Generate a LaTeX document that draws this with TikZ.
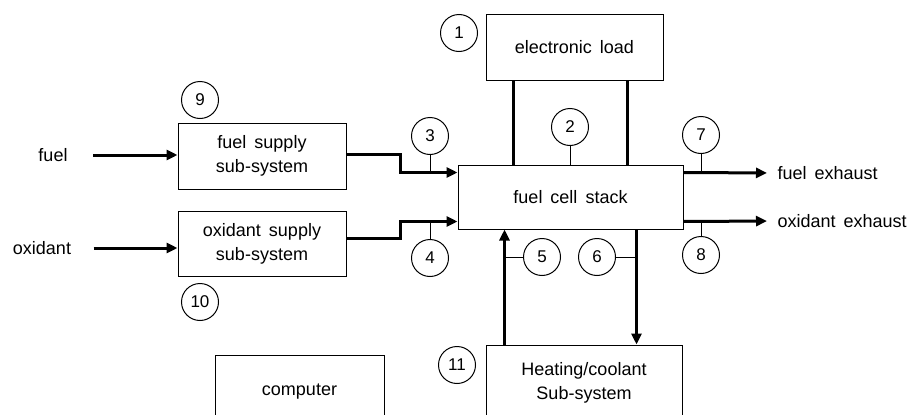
\documentclass[tikz,border=0pt]{standalone}
\usepackage{fontspec}
\setmainfont{Liberation Sans}[WordSpace=1.6]
\usetikzlibrary{arrows.meta}

\begin{document}
\begin{tikzpicture}[
  x=1pt, y=-1pt,
  box/.style={draw, line width=1pt, align=center, inner sep=0pt,
              font=\fontsize{18}{24}\selectfont},
  num/.style={draw, circle, line width=1pt, minimum size=37pt, inner sep=0pt,
              font=\fontsize{17}{18}\selectfont},
  lbl/.style={font=\fontsize{18}{24}\selectfont},
  flow/.style={line width=3pt, -{Triangle[length=11pt,width=10pt]}},
  wire/.style={line width=2.6pt},
  tick/.style={line width=1pt},
]
\useasboundingbox (0,0) rectangle (913,415);
\clip (0,0) rectangle (913,415);

\node[box, minimum width=177pt, minimum height=66pt] (load) at (574.5,47) {electronic load};
\node[box, minimum width=225pt, minimum height=64pt] (stack) at (570.5,197) {fuel cell stack};
\node[box, minimum width=168pt, minimum height=66pt] (fsup) at (262,156) {fuel supply\\sub-system};
\node[box, minimum width=168pt, minimum height=65pt] (osup) at (262,243.5) {oxidant supply\\sub-system};
\node[box, minimum width=196pt, minimum height=76pt] (heat) at (584,383) {Heating/coolant\\Sub-system};
\node[box, minimum width=169pt, minimum height=74pt] (comp) at (299.5,392) {computer};

\node[lbl] (fuel) at (53,155) {fuel};
\node[lbl] (oxi) at (42,248) {oxidant};
\node[lbl, anchor=west] (fex) at (774,173) {fuel exhaust};
\node[lbl, anchor=west] (oex) at (774,221) {oxidant exhaust};

\node[num] (c1) at (459,33) {1};
\node[num] (c2) at (570,127) {2};
\node[num] (c3) at (430,136) {3};
\node[num] (c4) at (430,258) {4};
\node[num] (c5) at (542,257) {5};
\node[num] (c6) at (597,257) {6};
\node[num] (c7) at (701,135) {7};
\node[num] (c8) at (701,255) {8};
\node[num] (c9) at (200,100) {9};
\node[num] (c10) at (200,302) {10};
\node[num] (c11) at (457,365) {11};

\coordinate (l1) at ([xshift=28pt]load.south west);
\coordinate (l2) at ([xshift=-36pt]load.south east);
\coordinate (in3) at ([yshift=-8pt]stack.north west);
\coordinate (in4) at ([yshift=8pt]stack.south west);
\coordinate (out7) at ([yshift=-8pt]stack.north east);
\coordinate (out8) at ([yshift=8pt]stack.south east);
\coordinate (up5) at ([xshift=19pt]heat.north west);
\coordinate (dn6) at ([xshift=-47pt]stack.south east);

\draw[wire] (l1) -- (l1 |- stack.north);
\draw[wire] (l2) -- (l2 |- stack.north);

\draw[flow, shorten <=22pt] (fuel.east) -- (fuel.east -| fsup.west);
\draw[flow, shorten <=19pt] (oxi.east) -- (oxi.east -| osup.west);
\draw[flow] ([yshift=2pt]fsup.east) -- ++(54,0) |- (in3);
\draw[flow] ([yshift=5pt]osup.east) -- ++(54,0) |- (in4);
\draw[flow, shorten >=7pt] (out7) -- (fex.west);
\draw[flow, shorten >=7pt] (out8) -- (oex.west);
\draw[flow] (up5) -- (up5 |- stack.south);
\draw[flow] (dn6) -- (dn6 |- heat.north);

\draw[tick] (c2) -- (c2 |- stack.north);
\draw[tick] (c3) -- (c3 |- in3);
\draw[tick] (c4) -- (c4 |- in4);
\draw[tick] (c5) -- (c5 -| up5);
\draw[tick] (c6) -- (c6 -| dn6);
\draw[tick] (c7) -- (c7 |- out7);
\draw[tick] (c8) -- (c8 |- out8);
\end{tikzpicture}
\end{document}
